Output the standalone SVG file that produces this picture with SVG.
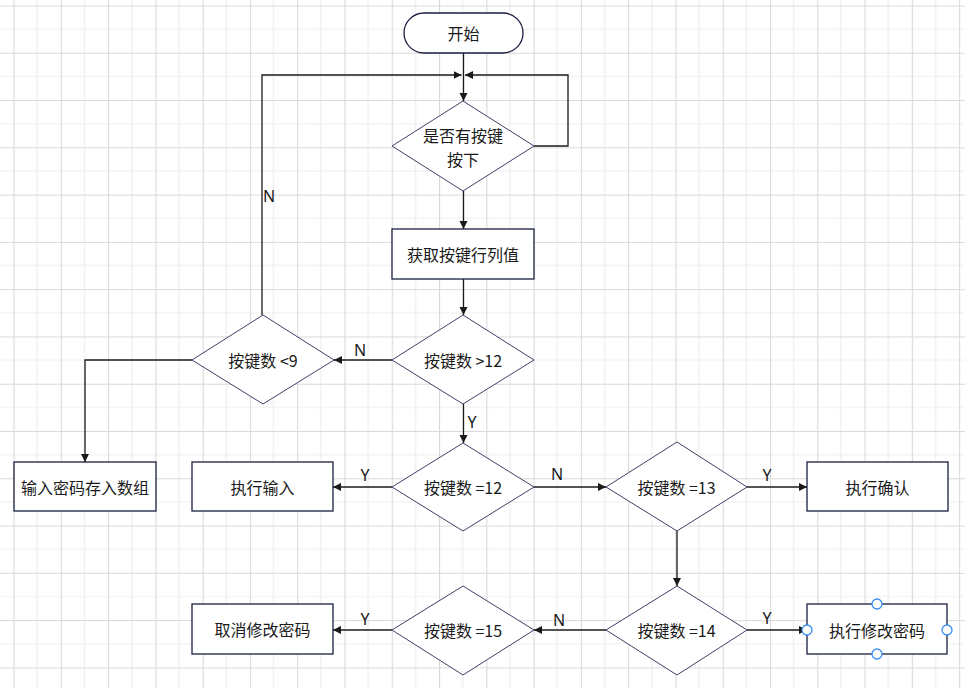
<svg xmlns="http://www.w3.org/2000/svg" width="965" height="688" viewBox="0 0 965 688">
<style>
.t{font-family:"Noto Sans CJK SC","Noto Sans",sans-serif;font-size:16px;fill:#1a1a1a;text-anchor:middle;dominant-baseline:central}
.l{font-family:"Noto Sans","Liberation Sans",sans-serif;font-size:16px;fill:#1a1a1a;text-anchor:middle;dominant-baseline:central}
.d{fill:#fff;stroke:#3d4266;stroke-width:1}
.r{fill:#fff;stroke:#1a1f40;stroke-width:1.3}
.c{fill:none;stroke:#1a1a1a;stroke-width:1.3}
.h{fill:#fff;stroke:#3b8ff0;stroke-width:1.3}
</style>
<defs>
<pattern id="g" patternUnits="userSpaceOnUse" x="13.5" y="5.5" width="47.28" height="47.28">
<path d="M23.64,0V47.28M0,23.64H47.28" stroke="#ededed" stroke-width="1.2" fill="none"/>
<path d="M0.5,0V47.28M0,0.5H47.28" stroke="#d9d9d9" stroke-width="1.2" fill="none"/>
</pattern>
<marker id="a" markerUnits="userSpaceOnUse" markerWidth="10" markerHeight="10" refX="8" refY="4" orient="auto">
<path d="M0,0L8,4L0,8z" fill="#1a1a1a"/>
</marker>
</defs>
<rect width="965" height="688" fill="#fff"/>
<rect width="965" height="688" fill="url(#g)"/>
<g id="connectors">
<path class="c" d="M463.5,53V101" marker-end="url(#a)"/>
<path class="c" d="M534,146H568V75H465" marker-end="url(#a)"/>
<path class="c" d="M262,315V75H461.5" marker-end="url(#a)"/>
<path class="c" d="M463.5,191V229" marker-end="url(#a)"/>
<path class="c" d="M463.5,279V315" marker-end="url(#a)"/>
<path class="c" d="M392,360H334" marker-end="url(#a)"/>
<path class="c" d="M192,360H85V462" marker-end="url(#a)"/>
<path class="c" d="M463.5,404V443" marker-end="url(#a)"/>
<path class="c" d="M392,487H333" marker-end="url(#a)"/>
<path class="c" d="M534,487H606" marker-end="url(#a)"/>
<path class="c" d="M747,487H807" marker-end="url(#a)"/>
<path class="c" d="M677,531V586" marker-end="url(#a)"/>
<path class="c" d="M747,630H807" marker-end="url(#a)"/>
<path class="c" d="M606,630H534" marker-end="url(#a)"/>
<path class="c" d="M392,630H333" marker-end="url(#a)"/>
<text class="l" x="269" y="196">N</text>
<text class="l" x="360" y="350">N</text>
<text class="l" x="472" y="422">Y</text>
<text class="l" x="365" y="475">Y</text>
<text class="l" x="557" y="474">N</text>
<text class="l" x="767" y="475">Y</text>
<text class="l" x="767" y="618">Y</text>
<text class="l" x="559" y="620">N</text>
<text class="l" x="365" y="619">Y</text>
</g>
<g id="start"><rect class="r" x="404" y="13" width="119" height="40" rx="20"/><text class="t" x="463.5" y="33">开始</text></g>
<g id="keypressed"><path class="d" d="M463,101L534,146L463,191L392,146z"/><text class="t" x="463" y="135">是否有按键</text><text class="t" x="463" y="159">按下</text></g>
<g id="getkey"><rect class="r" x="392" y="229" width="142" height="50"/><text class="t" x="463" y="254">获取按键行列值</text></g>
<g id="gt12"><path class="d" d="M463,315L534,360L463,404L392,360z"/><text class="t" x="463" y="360">按键数 &gt;12</text></g>
<g id="lt9"><path class="d" d="M263,315L334,360L263,404L192,360z"/><text class="t" x="263" y="360">按键数 &lt;9</text></g>
<g id="store"><rect class="r" x="14" y="462" width="142" height="49"/><text class="t" x="85" y="487">输入密码存入数组</text></g>
<g id="eq12"><path class="d" d="M463,443L534,487L463,531L392,487z"/><text class="t" x="463" y="487">按键数 =12</text></g>
<g id="input"><rect class="r" x="192" y="462" width="141" height="49"/><text class="t" x="262.5" y="487">执行输入</text></g>
<g id="eq13"><path class="d" d="M677,442L747,487L677,531L606,487z"/><text class="t" x="676.5" y="487">按键数 =13</text></g>
<g id="confirm"><rect class="r" x="807" y="462" width="141" height="49"/><text class="t" x="877.5" y="487">执行确认</text></g>
<g id="eq14"><path class="d" d="M677,586L747,630L677,675L606,630z"/><text class="t" x="676.5" y="630">按键数 =14</text></g>
<g id="change"><rect class="r" x="807" y="604" width="140" height="50"/><text class="t" x="877" y="630">执行修改密码</text>
<circle class="h" cx="877" cy="604" r="5"/><circle class="h" cx="877" cy="654" r="5"/><circle class="h" cx="807" cy="630" r="5"/><circle class="h" cx="947" cy="630" r="5"/></g>
<g id="eq15"><path class="d" d="M463,586L534,630L463,675L392,630z"/><text class="t" x="463" y="630">按键数 =15</text></g>
<g id="cancel"><rect class="r" x="192" y="604" width="141" height="50"/><text class="t" x="262.5" y="629">取消修改密码</text></g>
</svg>
